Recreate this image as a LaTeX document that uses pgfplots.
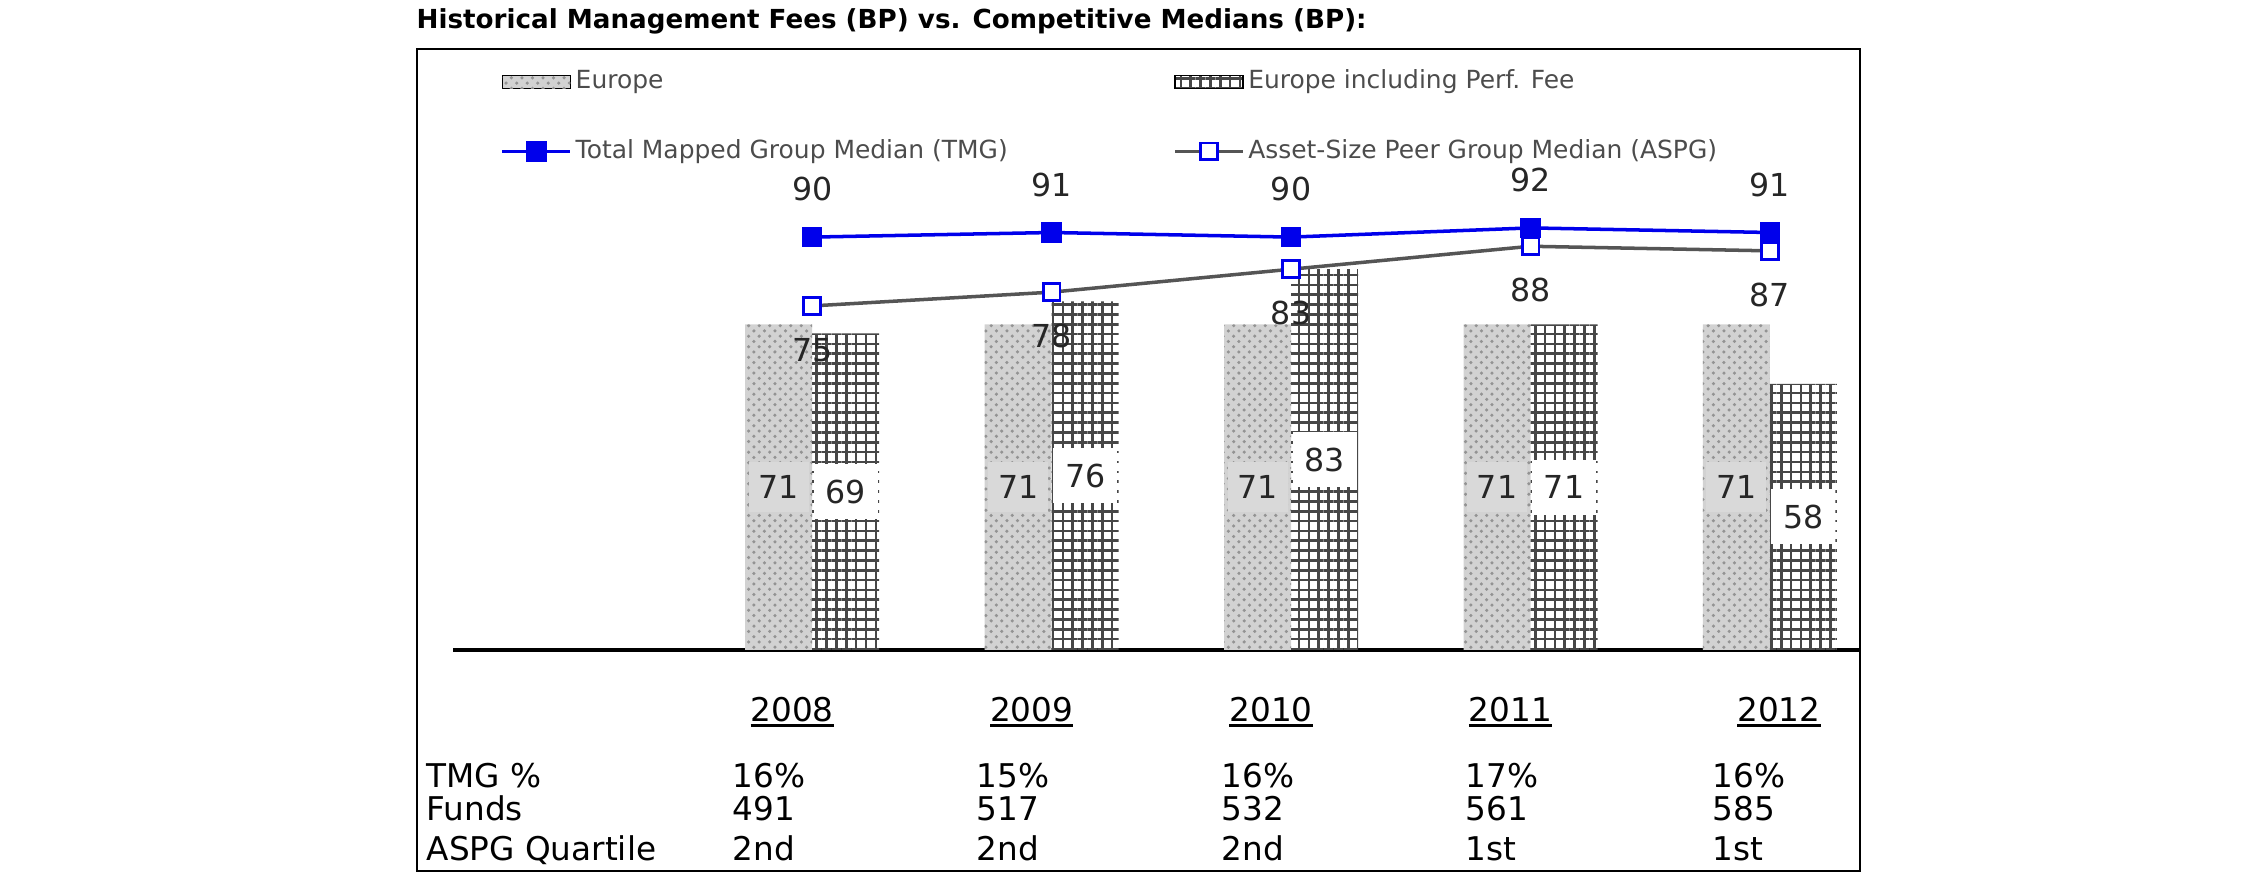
\documentclass[border=0pt]{standalone}
\usepackage{fontspec}
\setmainfont{DejaVu Sans}
\usepackage{pgfplots}
\pgfplotsset{compat=1.18}
\usetikzlibrary{patterns,patterns.meta}
\definecolor{tmgblue}{RGB}{0,0,235}
\definecolor{aspggray}{RGB}{85,85,85}
\newcommand\yr[1]{\setbox0\hbox{#1}\rlap{\rule[-1.6pt]{\wd0}{0.9pt}}\box0}
\pgfplotsset{
  barlegend/.style={legend image code/.code={\draw[##1] (0cm,-0.065cm) rectangle (0.68cm,0.065cm);}},
  linelegend/.style={legend image code/.code={\draw[mark repeat=2,mark phase=2,##1] plot coordinates {(0cm,0cm) (0.34cm,0cm) (0.68cm,0cm)};}},
}
\begin{document}
\begin{tikzpicture}
\useasboundingbox (0,0) rectangle (22.5,8.95);
% frame
\draw[line width=0.8pt] (4.17,8.46) -- (18.60,8.46) -- (18.60,0.24) -- (4.17,0.24) -- cycle;
% title
\node[anchor=west,inner sep=0pt,font=\fontsize{7.45}{9}\selectfont\bfseries] at (4.16,8.74)
  {Historical Management Fees (BP) vs. Competitive Medians (BP):};
\begin{axis}[
  at={(4.53cm,2.45cm)}, anchor=south west,
  scale only axis, width=14.07cm, height=6.01cm,
  xmin=-1.5, xmax=4.376, ymin=0, ymax=131,
  axis x line*=bottom, axis y line=none,
  x axis line style={line width=1pt,-},
  xtick={0,1,2,3,4},
  xticklabels={\yr{2008},\yr{2009},\yr{2010},\yr{2011},\hspace*{0.58cm}\yr{2012}},
  xtick style={draw=none}, major tick length=0pt,
  xticklabel style={anchor=center, yshift=-0.62cm, xshift=-0.2cm, font=\fontsize{9.3}{11}\selectfont},
  ytick=\empty,
  clip=false,
  /pgf/number format/assume math mode=true,
  legend columns=2,
  legend cell align=left,
  legend style={at={(0.0334,0.972)}, anchor=north west, draw=none, fill=none,
    inner sep=0pt, row sep=0.38cm,
    nodes={inner sep=1pt, text=black!70},
    font=\fontsize{7.1}{8}\selectfont,
    /tikz/every even column/.append style={column sep=1.62cm}},
]
% Europe
\addplot[ybar, bar width=0.67cm, bar shift=-0.335cm, draw=none, fill=gray!35,
  postaction={pattern=crosshatch dots, pattern color=gray!85},
  barlegend,
  nodes near coords, nodes near coords align={anchor=center},
  visualization depends on={y \as \rawy},
  every node near coord/.append style={shift={(axis direction cs:0,-\rawy/2)}, xshift=-0.335cm,
    fill=gray!30, minimum width=0.6cm, minimum height=0.5cm, inner sep=0pt,
    text=black!85, font=\fontsize{9}{10}\selectfont}]
  coordinates {(0,71) (1,71) (2,71) (3,71) (4,71)};
% Europe incl. perf fee
\addplot[ybar, bar width=0.67cm, bar shift=0.335cm, draw=none,
  pattern={Hatch[angle=0,distance=2.8pt,line width=0.75pt]}, pattern color=black!72,
  barlegend,
  nodes near coords, nodes near coords align={anchor=center},
  visualization depends on={y \as \rawy},
  every node near coord/.append style={shift={(axis direction cs:0,-\rawy/2)}, xshift=0.335cm,
    fill=white, minimum width=0.64cm, minimum height=0.55cm, inner sep=0pt,
    text=black!85, font=\fontsize{9}{10}\selectfont}]
  coordinates {(0,69) (1,76) (2,83) (3,71) (4,58)};
% TMG
\addplot[color=tmgblue, line width=1pt, mark=square*, mark size=2.4pt,
  mark options={fill=tmgblue, draw=tmgblue},
  linelegend,
  nodes near coords, nodes near coords align={anchor=center},
  every node near coord/.append style={yshift=0.48cm, text=black!85, font=\fontsize{9}{10}\selectfont}]
  coordinates {(0,90) (1,91) (2,90) (3,92) (4,91)};
% ASPG
\addplot[color=aspggray, line width=1pt, mark=square*, mark size=2.4pt,
  mark options={fill=white, draw=tmgblue, line width=0.8pt},
  linelegend,
  nodes near coords, nodes near coords align={anchor=center},
  every node near coord/.append style={yshift=-0.44cm, text=black!85, font=\fontsize{9}{10}\selectfont}]
  coordinates {(0,75) (1,78) (2,83) (3,88) (4,87)};
\legend{Europe, Europe including Perf. Fee, Total Mapped Group Median (TMG), Asset-Size Peer Group Median (ASPG)}
\end{axis}
% table below
\begin{scope}[every node/.style={anchor=base west, inner sep=0pt, font=\fontsize{9.3}{11}\selectfont}]
\node at (4.26,1.08) {TMG \%};
\node at (4.26,0.75) {Funds};
\node at (4.26,0.35) {ASPG Quartile};
\foreach \x/\a/\b/\c in {7.32/16\%/491/2nd, 9.76/15\%/517/2nd, 12.21/16\%/532/2nd, 14.65/17\%/561/1st, 17.12/16\%/585/1st}{
  \node at (\x,1.08) {\a};
  \node at (\x,0.75) {\b};
  \node at (\x,0.35) {\c};
}
\end{scope}
\end{tikzpicture}
\end{document}
